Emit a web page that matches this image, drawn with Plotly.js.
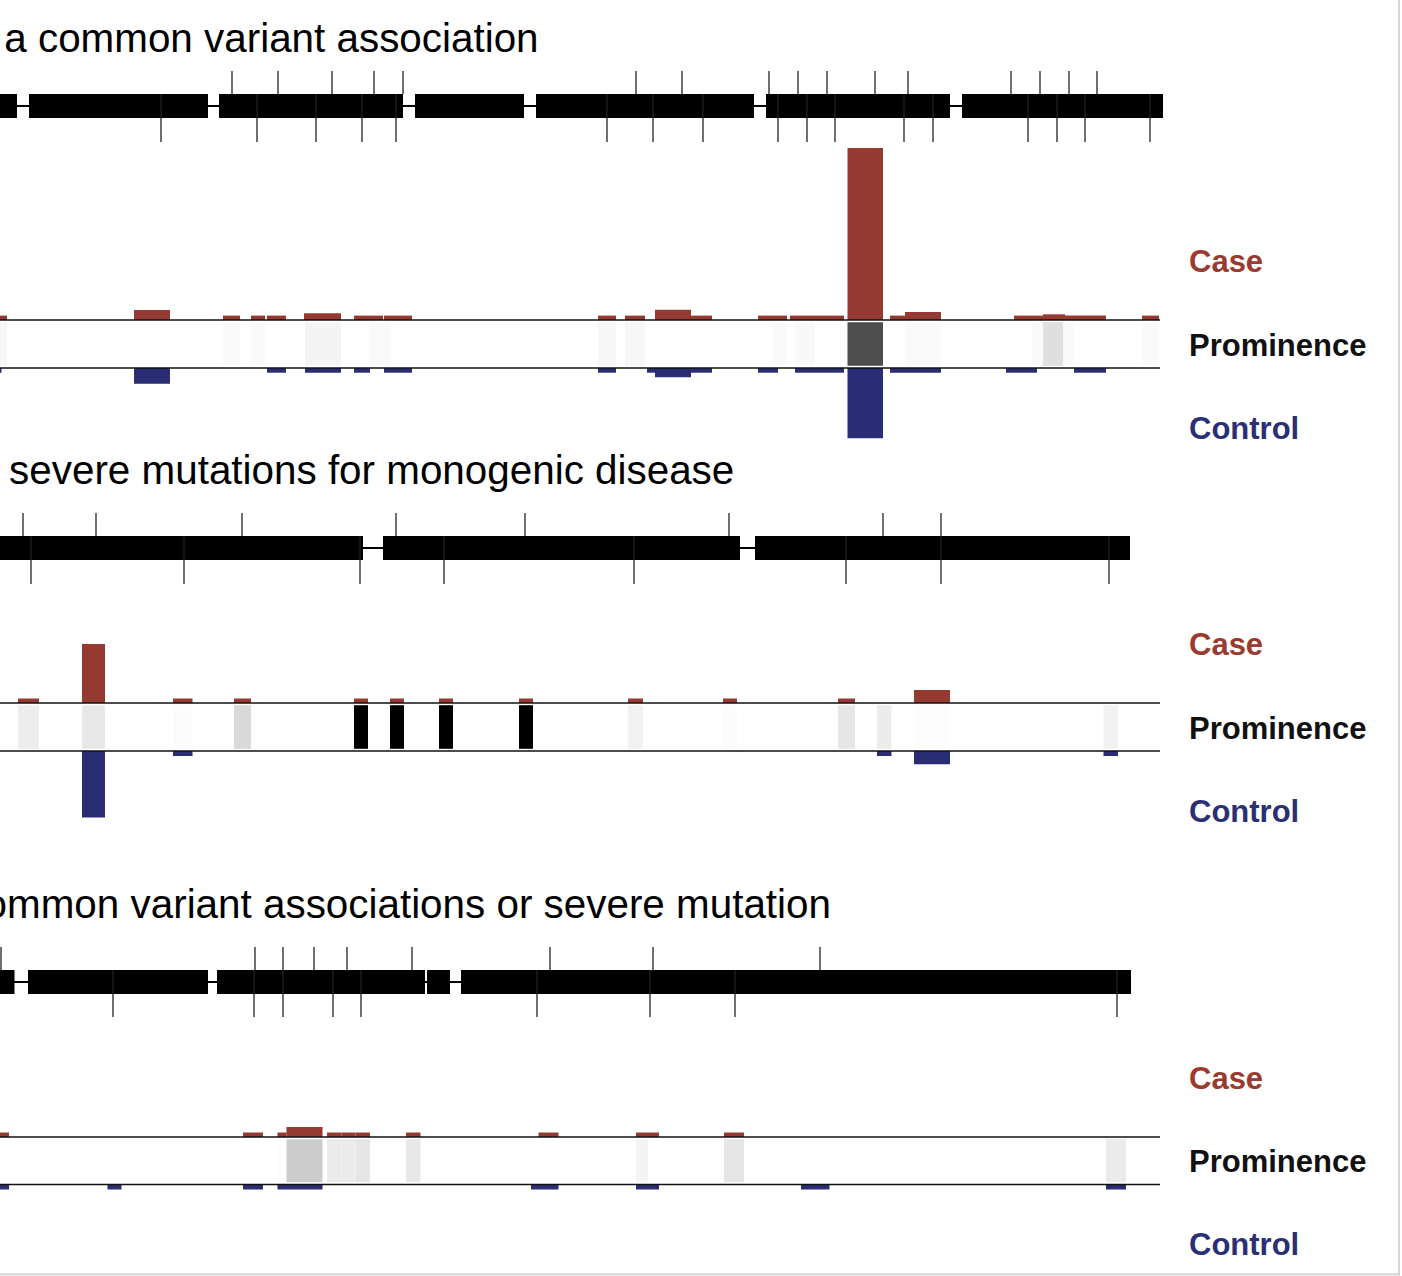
<!DOCTYPE html>
<html><head><meta charset="utf-8">
<script src="https://cdn.plot.ly/plotly-3.0.1.min.js"></script>
<style>html,body{margin:0;padding:0;background:#fff;}#chart{width:1402px;height:1276px;}</style>
</head><body><div id="chart"></div>
<script>
// ---------- DATA (positions along the gene) ----------
const titles = [
  "Genes with a common variant association",
  "Genes carrying severe mutations for monogenic disease",
  "Genes without common variant associations or severe mutation"
];
const rowLabels = ["Case", "Prominence", "Control"];

// Panel 1
const p1Exons = [[0,17],[29,208],[219,403],[415,524],[536,754],[766,950],[962,1163]];
const p1TicksUp = [232,278,332,374,403,636,682,769,798,827,875,908,1011,1040,1069,1097];
const p1TicksDown = [161,257,316,362,396,607,653,703,778,807,835,904,933,1028,1057,1085,1150];
const p1Case = [[0,7,4.4],[134,170,10],[223,240,4.4],[251,265,4.4],[267,286,4.4],[304,341,6.7],[354,383,4.4],[384,412,4.4],[598,616,4.4],[625,645,4.4],[655,691,10.3],[691,712,4.4],[758,787,4.4],[790,815,4.4],[815,844,4.4],[847.5,883,172],[890,905,4.4],[905,941,8],[1014,1043,4.4],[1043,1065,5.7],[1065,1106,4.4],[1142,1159,4.4]];
const p1Control = [[0,1.5,4.7],[134,170,15.7],[267,286,4.7],[305,341,4.7],[354,370,4.7],[384,412,4.7],[598,616,4.7],[647,655,4.7],[655,691,9.3],[691,712,4.7],[758,778,4.7],[795,815,4.7],[815,844,4.7],[847.5,883,70.3],[890,941,4.7],[1006,1037,4.7],[1074,1106,4.7]];
const p1Prom = [[0,7,0.03],[223,240,0.02],[251,265,0.02],[305,341,0.045],[369,391,0.02],[598,616,0.03],[625,645,0.03],[772,787,0.02],[795,815,0.025],[847.5,883,0.70],[905,941,0.02],[1032,1043,0.02],[1043,1063,0.125],[1063,1074,0.02],[1142,1159,0.02]];

// Panel 2
const p2Exons = [[0,363],[383,740],[755,1130]];
const p2TicksUp = [23,96,242,396,525,729,883,941];
const p2TicksDown = [31,184,360,444,634,846,941,1109];
const p2Case = [[18,39,4.5],[82,105,59],[173,192.5,4.5],[234,251,4.5],[354,368,4.5],[390,404,4.5],[439,453,4.5],[519,533,4.5],[628,643,4.5],[723,737,4.5],[838,855,4.5],[914,950,13]];
const p2Control = [[82,105,66.5],[173,192.5,5],[877,891.5,5],[914,950,13.3],[1103.5,1118,5]];
const p2Prom = [[18,39,0.07],[82,105,0.09],[173,192.5,0.01],[234,251,0.15],[354,368,1],[390,404,1],[439,453,1],[519,533,1],[628,643,0.055],[723,737,0.01],[838,855,0.1],[877,891.5,0.075],[914,950,0.008],[1103.5,1118,0.055]];

// Panel 3
const p3Exons = [[0,14.5],[28,208],[217,425],[427,450],[461,1131]];
const p3TicksUp = [1,255,283,314,347,412,550,653,820];
const p3TicksDown = [113,254,283,333,361,537,650,735,1117];
const p3Case = [[0,9,4.5],[243,263,4.5],[277.5,286.5,4.5],[286.5,322.5,10],[327,341.5,4.5],[341.5,355.5,4.5],[355.5,370,4.5],[406,420.5,4.5],[538.5,558.5,4.5],[636,659,4.5],[724,744,4.5]];
const p3Control = [[0,9,5],[107.5,121.5,5],[243,263,5],[277.5,322.5,5],[531,558.5,5],[636,659,5],[801,829.5,5],[1106,1126,5]];
const p3Prom = [[277.5,286.5,0.01],[286.5,322.5,0.2],[327,341.5,0.08],[341.5,355.5,0.08],[355.5,370,0.1],[406,420.5,0.09],[636,648,0.045],[724,744,0.1],[1106,1126,0.08]];

// ---------- LAYOUT GEOMETRY ----------
const W = 1402, H = 1276;
const panels = [
  {title: titles[0], titleEnd: 541, titleY: 38, tickTop: 71, exTop: 94, exBot: 118, tickBot: 142, caseBase: 320, ctrlBase: 368, labelY: [262,346,429],
   exons: p1Exons, up: p1TicksUp, down: p1TicksDown, cas: p1Case, ctl: p1Control, prom: p1Prom},
  {title: titles[1], titleEnd: 736, titleY: 470, tickTop: 513, exTop: 536, exBot: 560, tickBot: 584, caseBase: 703, ctrlBase: 751, labelY: [645,729,812],
   exons: p2Exons, up: p2TicksUp, down: p2TicksDown, cas: p2Case, ctl: p2Control, prom: p2Prom},
  {title: titles[2], titleEnd: 833, titleY: 904, tickTop: 947, exTop: 970, exBot: 994, tickBot: 1017, caseBase: 1137, ctrlBase: 1184.5, labelY: [1079,1162,1245],
   exons: p3Exons, up: p3TicksUp, down: p3TicksDown, cas: p3Case, ctl: p3Control, prom: p3Prom}
];
const CASE_COLOR = '#953a30', CTRL_COLOR = '#2a2d73';
const LABEL_COLORS = ['#9a3b30', '#111111', '#2b2f73'];
const LINE_END = 1160;

const traces = [];
const annotations = [];
const mid = a => a.map(r => (r[0] + r[1]) / 2);
const wid = a => a.map(r => r[1] - r[0]);
const common = {hoverinfo: 'skip', showlegend: false};

panels.forEach(p => {
  const cy = (p.exTop + p.exBot) / 2;
  // intron line
  traces.push(Object.assign({type: 'scatter', mode: 'lines',
    x: [p.exons[0][0], p.exons[p.exons.length - 1][1]], y: [cy, cy],
    line: {color: '#000', width: 2}}, common));
  // exons
  traces.push(Object.assign({type: 'bar', x: mid(p.exons), width: wid(p.exons),
    base: p.exons.map(() => p.exTop), y: p.exons.map(() => p.exBot - p.exTop),
    marker: {color: '#000', line: {width: 0}}}, common));
  // variant ticks (above: outside block only; below: faint through the block)
  const ux = [], uy = [];
  p.up.forEach(v => { ux.push(v, v, null); uy.push(p.tickTop, p.exTop, null); });
  const dx = [], dy = [];
  p.down.forEach(v => { dx.push(v, v, null); dy.push(p.exBot, p.tickBot, null); });
  const ix = [], iy = [];
  p.down.forEach(v => { ix.push(v, v, null); iy.push(p.exTop, p.exBot, null); });
  traces.push(Object.assign({type: 'scatter', mode: 'lines', x: ix, y: iy,
    line: {color: '#2a2a2a', width: 1}}, common));
  traces.push(Object.assign({type: 'scatter', mode: 'lines', x: ux.concat(dx), y: uy.concat(dy),
    line: {color: '#222', width: 1.3}}, common));
  // prominence
  traces.push(Object.assign({type: 'bar', x: mid(p.prom), width: wid(p.prom),
    base: p.prom.map(() => p.caseBase + 2.2), y: p.prom.map(() => (p.ctrlBase - 2.2) - (p.caseBase + 2.2)),
    marker: {color: p.prom.map(r => r[2]), cmin: 0, cmax: 1,
      colorscale: [[0, '#ffffff'], [1, '#000000']], line: {width: 0}}}, common));
  // case (up)
  traces.push(Object.assign({type: 'bar', x: mid(p.cas), width: wid(p.cas),
    base: p.cas.map(() => p.caseBase), y: p.cas.map(r => -r[2]),
    marker: {color: CASE_COLOR, line: {width: 0}}}, common));
  // control (down)
  traces.push(Object.assign({type: 'bar', x: mid(p.ctl), width: wid(p.ctl),
    base: p.ctl.map(() => p.ctrlBase), y: p.ctl.map(r => r[2]),
    marker: {color: CTRL_COLOR, line: {width: 0}}}, common));
  // baselines
  traces.push(Object.assign({type: 'scatter', mode: 'lines',
    x: [0, LINE_END, null, 0, LINE_END], y: [p.caseBase, p.caseBase, null, p.ctrlBase, p.ctrlBase],
    line: {color: '#111', width: 1.5}}, common));
  // title
  annotations.push({x: p.titleEnd, y: p.titleY, xref: 'x', yref: 'y', xanchor: 'right', yanchor: 'middle',
    text: p.title, showarrow: false, font: {family: 'Liberation Sans, Arial, sans-serif', size: 40.4, color: '#000'}});
  // row labels
  rowLabels.forEach((t, i) => annotations.push({x: 1187, y: p.labelY[i] - 1, xref: 'x', yref: 'y',
    xanchor: 'left', yanchor: 'middle', text: '<b>' + t + '</b>', showarrow: false,
    font: {family: 'Liberation Sans, Arial, sans-serif', size: 31, color: LABEL_COLORS[i]}}));
});

const layout = {
  width: W, height: H, margin: {l: 0, r: 0, t: 0, b: 0, pad: 0},
  paper_bgcolor: '#fff', plot_bgcolor: '#fff',
  barmode: 'overlay', showlegend: false,
  xaxis: {range: [0, W], visible: false, fixedrange: true},
  yaxis: {range: [H, 0], visible: false, fixedrange: true},
  annotations: annotations,
  shapes: [
    {type: 'line', xref: 'paper', yref: 'paper', x0: 0.9979, x1: 0.9979, y0: 0, y1: 1, line: {color: '#d4d4d4', width: 2}},
    {type: 'line', xref: 'paper', yref: 'paper', x0: 0, x1: 0.998, y0: 0.0014, y1: 0.0014, line: {color: '#d4d4d4', width: 2}}
  ]
};
Plotly.newPlot('chart', traces, layout, {staticPlot: true, displayModeBar: false});
</script></body></html>
